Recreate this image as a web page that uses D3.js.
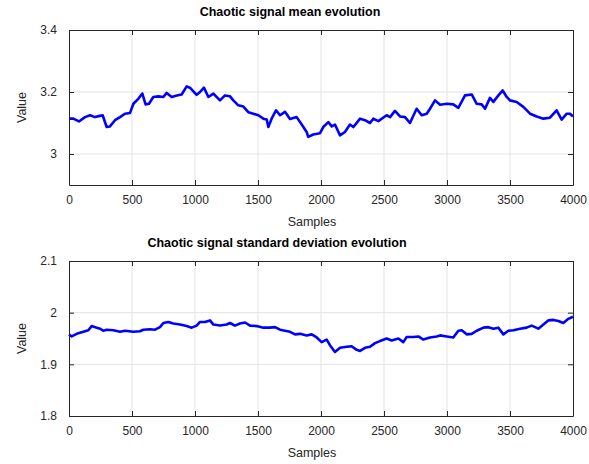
<!DOCTYPE html>
<html>
<head>
<meta charset="utf-8">
<script src="https://cdn.jsdelivr.net/npm/d3@7"></script>
<style>
  body { margin: 0; background: #fff; }
  text { font-family: "Liberation Sans", Arial, sans-serif; }
</style>
</head>
<body>
<div id="chart"></div>
<script>
// Sample positions and values
var meanSamples = [0, 34, 79, 127, 167, 206, 246, 267, 299, 325, 365, 405, 444, 484, 511, 550, 582, 608, 635, 669,
  709, 749, 775, 815, 855, 894, 934, 960, 1013, 1040, 1071, 1106, 1146, 1198, 1238, 1278, 1304, 1344, 1384, 1423,
  1463, 1503, 1542, 1569, 1582, 1608, 1643, 1675, 1714, 1754, 1807, 1847, 1886, 1899, 1939, 1992, 2018, 2058, 2085,
  2111, 2151, 2190, 2230, 2257, 2310, 2349, 2389, 2415, 2455, 2521, 2548, 2587, 2627, 2667, 2706, 2759, 2799, 2839,
  2865, 2905, 2945, 2998, 3050, 3090, 3143, 3196, 3236, 3275, 3302, 3341, 3368, 3408, 3442, 3474, 3500, 3553, 3606,
  3659, 3712, 3765, 3817, 3870, 3910, 3950, 3976, 4000];
var meanValues = [3.114, 3.114, 3.105, 3.119, 3.125, 3.119, 3.123, 3.125, 3.087, 3.089, 3.109, 3.119, 3.130, 3.132,
  3.162, 3.178, 3.195, 3.160, 3.162, 3.184, 3.186, 3.184, 3.197, 3.184, 3.189, 3.192, 3.218, 3.214, 3.191, 3.200,
  3.214, 3.184, 3.195, 3.173, 3.189, 3.186, 3.173, 3.157, 3.153, 3.135, 3.130, 3.125, 3.114, 3.111, 3.087, 3.114,
  3.141, 3.125, 3.136, 3.113, 3.119, 3.095, 3.071, 3.055, 3.063, 3.067, 3.087, 3.103, 3.089, 3.095, 3.060, 3.071,
  3.095, 3.087, 3.114, 3.109, 3.100, 3.114, 3.106, 3.125, 3.119, 3.139, 3.121, 3.119, 3.100, 3.146, 3.125, 3.130,
  3.146, 3.173, 3.159, 3.162, 3.160, 3.149, 3.189, 3.192, 3.162, 3.160, 3.146, 3.181, 3.168, 3.189, 3.205, 3.184,
  3.173, 3.168, 3.152, 3.130, 3.121, 3.114, 3.117, 3.141, 3.111, 3.130, 3.130, 3.121];

var stdSamples = [0, 21, 61, 114, 153, 180, 220, 246, 272, 299, 352, 405, 444, 511, 563, 590, 643, 683, 722, 749,
  788, 828, 881, 934, 974, 1013, 1040, 1079, 1119, 1146, 1198, 1251, 1278, 1317, 1357, 1397, 1437, 1489, 1542, 1595,
  1635, 1675, 1714, 1754, 1794, 1834, 1886, 1926, 1966, 2005, 2045, 2071, 2111, 2151, 2204, 2243, 2283, 2310, 2349,
  2389, 2429, 2468, 2521, 2561, 2614, 2653, 2680, 2733, 2773, 2812, 2865, 2918, 2945, 2998, 3050, 3090, 3117, 3156,
  3196, 3236, 3289, 3328, 3368, 3408, 3447, 3487, 3527, 3580, 3632, 3672, 3725, 3765, 3804, 3844, 3884, 3923, 3963,
  4000];
var stdValues = [1.958, 1.954, 1.959, 1.963, 1.966, 1.974, 1.971, 1.969, 1.965, 1.967, 1.966, 1.963, 1.965, 1.963,
  1.964, 1.967, 1.968, 1.967, 1.972, 1.980, 1.982, 1.979, 1.977, 1.974, 1.971, 1.975, 1.982, 1.982, 1.985, 1.977,
  1.975, 1.977, 1.980, 1.975, 1.979, 1.981, 1.975, 1.974, 1.971, 1.971, 1.972, 1.967, 1.965, 1.963, 1.958, 1.959,
  1.956, 1.958, 1.952, 1.943, 1.948, 1.937, 1.924, 1.932, 1.934, 1.935, 1.928, 1.926, 1.932, 1.934, 1.941, 1.945,
  1.950, 1.946, 1.950, 1.943, 1.953, 1.953, 1.954, 1.948, 1.952, 1.954, 1.956, 1.954, 1.952, 1.965, 1.966, 1.958,
  1.959, 1.965, 1.971, 1.972, 1.969, 1.971, 1.958, 1.965, 1.966, 1.969, 1.971, 1.975, 1.969, 1.977, 1.985, 1.986,
  1.984, 1.980, 1.988, 1.992];

var xTicks = [0, 500, 1000, 1500, 2000, 2500, 3000, 3500, 4000];
var meanTicks = [3, 3.2, 3.4];
var stdTicks = [1.8, 1.9, 2, 2.1];

var svgWidth = 589;
var svgHeight = 464;

var svg = d3.select("#chart")
  .append("svg")
  .attr("width", svgWidth)
  .attr("height", svgHeight);

// draw one panel (axes box, grid, line, labels)
function drawPanel(opts) {
  var left = 69, right = 573;
  var x = d3.scaleLinear().domain([0, 4000]).range([left, right]);
  var y = d3.scaleLinear().domain(opts.yDomain).range([opts.bottom, opts.top]);
  var g = svg.append("g");

  // grid
  g.selectAll(".vgrid").data(xTicks.slice(1, -1)).enter().append("line")
    .attr("x1", d => x(d)).attr("x2", d => x(d))
    .attr("y1", opts.top).attr("y2", opts.bottom)
    .attr("stroke", "#e3e3e3").attr("stroke-width", 1);
  g.selectAll(".hgrid").data(opts.yTicks.filter(d => d > opts.yDomain[0] && d < opts.yDomain[1])).enter().append("line")
    .attr("x1", left).attr("x2", right)
    .attr("y1", d => y(d)).attr("y2", d => y(d))
    .attr("stroke", "#e3e3e3").attr("stroke-width", 1);

  // data line
  var line = d3.line()
    .x((d, i) => x(opts.xs[i]))
    .y(d => y(d));
  g.append("path")
    .datum(opts.values)
    .attr("fill", "none")
    .attr("stroke", "#0000ff")
    .attr("stroke-width", 2.6)
    .attr("stroke-linejoin", "round")
    .attr("d", line);

  // axes with inward ticks
  var bottomAxis = d3.axisBottom(x).tickValues(xTicks).tickSizeInner(-5).tickSizeOuter(0).tickPadding(10).tickFormat(d3.format("d"));
  var topAxis = d3.axisTop(x).tickValues(xTicks).tickSizeInner(-5).tickSizeOuter(0).tickFormat("");
  var leftAxis = d3.axisLeft(y).tickValues(opts.yTicks).tickSizeInner(-5).tickSizeOuter(0).tickPadding(12).tickFormat(d => String(d));
  var rightAxis = d3.axisRight(y).tickValues(opts.yTicks).tickSizeInner(-5).tickSizeOuter(0).tickFormat("");

  [[bottomAxis, `translate(0,${opts.bottom})`], [topAxis, `translate(0,${opts.top})`],
   [leftAxis, `translate(${left},0)`], [rightAxis, `translate(${right},0)`]].forEach(function(a) {
    var ag = g.append("g").attr("transform", a[1]).call(a[0]);
    ag.select(".domain").attr("stroke", "#262626");
    ag.selectAll(".tick line").attr("stroke", "#262626");
    ag.selectAll(".tick text").attr("fill", "#262626").style("font-size", "12px");
  });

  // titles
  g.append("text")
    .attr("x", opts.titleX).attr("y", opts.top - 14)
    .attr("text-anchor", "middle")
    .style("font-size", "12.5px").style("font-weight", "bold")
    .attr("fill", "#000")
    .text(opts.title);
  g.append("text")
    .attr("x", 312).attr("y", opts.bottom + 41)
    .attr("text-anchor", "middle")
    .style("font-size", "12.5px")
    .attr("fill", "#262626")
    .text("Samples");
  g.append("text")
    .attr("transform", `translate(26,${(opts.top + opts.bottom) / 2}) rotate(-90)`)
    .attr("text-anchor", "middle")
    .style("font-size", "12.5px")
    .attr("fill", "#262626")
    .text("Value");
}

drawPanel({
  top: 30, bottom: 185, yDomain: [2.9, 3.4], yTicks: meanTicks,
  xs: meanSamples, values: meanValues,
  title: "Chaotic signal mean evolution", titleX: 290
});

drawPanel({
  top: 261, bottom: 416, yDomain: [1.8, 2.1], yTicks: stdTicks,
  xs: stdSamples, values: stdValues,
  title: "Chaotic signal standard deviation evolution", titleX: 277
});
</script>
</body>
</html>
